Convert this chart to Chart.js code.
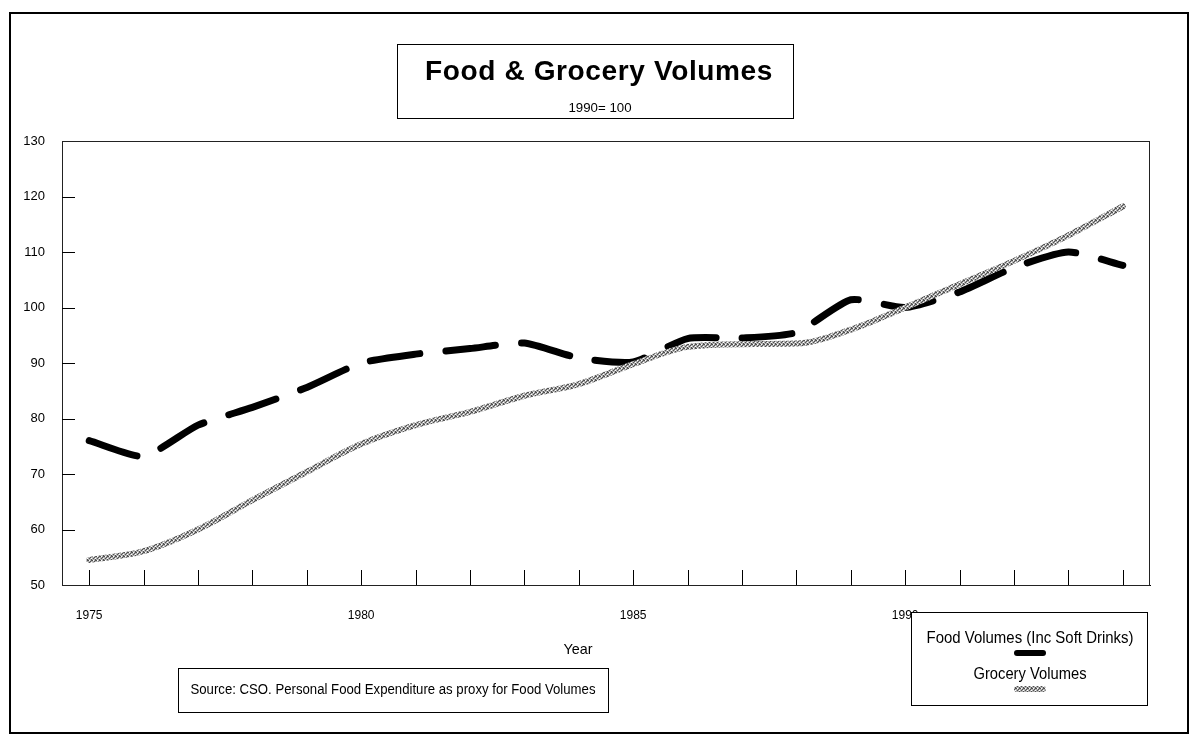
<!DOCTYPE html>
<html>
<head>
<meta charset="utf-8">
<script src="https://cdn.jsdelivr.net/npm/chart.js@4.4.1/dist/chart.umd.min.js"></script>
<style>
  html, body { margin: 0; padding: 0; background: #fff; }
  canvas { display: block; }
</style>
</head>
<body>
<canvas id="c" width="1195" height="738"></canvas>
<script>
// Years on the category axis
const years = ['1975','1976','1977','1978','1979','1980','1981','1982','1983','1984',
               '1985','1986','1987','1988','1989','1990','1991','1992','1993','1994'];

// Index values, 1990 = 100
const foodVolumes = [76, 73.2, 78.8, 82, 85.6, 90, 91.6, 92.6, 93.6, 90.9,
                     90.2, 94.4, 94.5, 95.5, 101.4, 100, 102.8, 107.2, 110, 107.6];
const groceryVolumes = [54.5, 56.1, 60, 65.3, 70.4, 75.4, 78.8, 81.2, 84.1, 86.2,
                        89.8, 92.9, 93.4, 93.5, 96, 100, 104.2, 108.4, 113, 118.2];

// Value axis ticks
const yTicks = [50, 60, 70, 80, 90, 100, 110, 120, 130];

const seriesNames = ['Food Volumes (Inc Soft Drinks)', 'Grocery Volumes'];
const titleText = 'Food & Grocery Volumes';
const subtitleText = '1990= 100';
const axisTitle = 'Year';
const sourceText = 'Source: CSO. Personal Food Expenditure as proxy for Food Volumes';

const SANS = '"Liberation Sans", Arial, sans-serif';

// Mottled grey stroke for the grocery line
function mottled() {
  const p = document.createElement('canvas');
  p.width = 4; p.height = 4;
  const g = p.getContext('2d');
  g.fillStyle = '#b0b0b0';
  g.fillRect(0, 0, 4, 4);
  g.fillStyle = '#505050';
  [[0,0],[2,1],[1,2],[3,3],[3,0]].forEach(([x, y]) => g.fillRect(x, y, 1, 1));
  g.fillStyle = '#ffffff';
  [[1,0],[3,2]].forEach(([x, y]) => g.fillRect(x, y, 1, 1));
  return g.createPattern(p, 'repeat');
}

const ctx0 = document.getElementById('c').getContext('2d');
const greyPattern = mottled();

// Centered text; when a width is given the glyphs are condensed to fit it
function drawText(ctx, text, x, y, font, width, spacing) {
  ctx.save();
  ctx.font = font;
  ctx.fillStyle = '#000';
  ctx.textAlign = 'center';
  ctx.textBaseline = 'middle';
  if (spacing) ctx.letterSpacing = spacing;
  const w = ctx.measureText(text).width;
  const k = width ? width / w : 1;
  ctx.translate(x, y);
  ctx.scale(k, 1);
  ctx.fillText(text, 0, 0);
  ctx.restore();
}

const decorations = {
  id: 'decorations',
  beforeDraw(chart) {
    const ctx = chart.ctx;
    ctx.save();
    ctx.fillStyle = '#fff';
    ctx.fillRect(0, 0, chart.width, chart.height);
    ctx.restore();
  },
  afterDraw(chart) {
    const ctx = chart.ctx;
    const area = chart.chartArea;
    const xs = chart.scales.x, ys = chart.scales.y;
    ctx.save();

    // plot frame
    ctx.strokeStyle = '#222';
    ctx.lineWidth = 1;
    ctx.strokeRect(area.left + 0.5, area.top + 0.5, area.right - area.left - 1, area.bottom - area.top);

    // inward tick marks
    ctx.strokeStyle = '#000';
    ctx.beginPath();
    yTicks.slice(1, -1).forEach(v => {
      const y = Math.round(ys.getPixelForValue(v)) + 0.5;
      ctx.moveTo(area.left, y);
      ctx.lineTo(area.left + 13, y);
    });
    years.forEach((_, i) => {
      const x = Math.round(xs.getPixelForValue(i)) + 0.5;
      ctx.moveTo(x, area.bottom);
      ctx.lineTo(x, area.bottom - 15);
    });
    ctx.stroke();

    // outer border
    ctx.lineWidth = 2;
    ctx.strokeStyle = '#000';
    ctx.strokeRect(10, 13, 1178, 720);

    // title box
    ctx.lineWidth = 1;
    ctx.fillStyle = '#fff';
    ctx.fillRect(397, 44, 396, 74);
    ctx.strokeRect(397.5, 44.5, 396, 74);
    drawText(ctx, titleText, 599, 72, 'bold 28px ' + SANS, 348, '0.6px');
    drawText(ctx, subtitleText, 600, 108, '13px ' + SANS, 63);

    // axis title
    drawText(ctx, axisTitle, 578, 650, '15px ' + SANS, 29);

    // source note
    ctx.fillStyle = '#fff';
    ctx.fillRect(178, 668, 430, 44);
    ctx.strokeStyle = '#000';
    ctx.strokeRect(178.5, 668.5, 430, 44);
    drawText(ctx, sourceText, 393, 690, '14px ' + SANS, 405);

    // legend
    ctx.fillStyle = '#fff';
    ctx.fillRect(911, 612, 236, 93);
    ctx.strokeRect(911.5, 612.5, 236, 93);
    drawText(ctx, seriesNames[0], 1030, 638, '17px ' + SANS, 207);
    drawText(ctx, seriesNames[1], 1030, 674, '17px ' + SANS, 113);
    ctx.lineCap = 'round';
    ctx.lineWidth = 6;
    ctx.strokeStyle = '#000';
    ctx.beginPath(); ctx.moveTo(1017, 653); ctx.lineTo(1043, 653); ctx.stroke();
    ctx.strokeStyle = greyPattern;
    ctx.beginPath(); ctx.moveTo(1017, 689); ctx.lineTo(1043, 689); ctx.stroke();

    ctx.restore();
  }
};

new Chart(ctx0, {
  type: 'line',
  data: {
    labels: years,
    datasets: [
      {
        label: seriesNames[1],
        data: groceryVolumes,
        borderColor: greyPattern,
        borderWidth: 6,
        cubicInterpolationMode: 'monotone',
        pointRadius: 0,
        borderCapStyle: 'round',
        borderJoinStyle: 'round',
        fill: false
      },
      {
        label: seriesNames[0],
        data: foodVolumes,
        borderColor: '#000',
        borderWidth: 7,
        tension: 0.2,
        borderDash: [50, 26],
        borderCapStyle: 'round',
        borderJoinStyle: 'round',
        pointRadius: 0,
        fill: false
      }
    ]
  },
  options: {
    responsive: false,
    animation: false,
    devicePixelRatio: 1,
    layout: { padding: { left: 0, top: 141, right: 45, bottom: 0 } },
    plugins: {
      legend: { display: false },
      title: { display: false },
      tooltip: { enabled: false }
    },
    scales: {
      x: {
        type: 'category',
        offset: true,
        grid: { display: false, drawTicks: false },
        border: { display: true, color: '#000', width: 1 },
        ticks: {
          autoSkip: false,
          maxRotation: 0,
          padding: 23,
          color: '#000',
          font: { family: SANS, size: 12 },
          callback: function (v, i) {
            const yr = years[i];
            return Number(yr) % 5 === 0 ? yr : '';
          }
        },
        afterFit(scale) { scale.height = 153; }
      },
      y: {
        min: 50,
        max: 130,
        grid: { display: false, drawTicks: false },
        border: { display: true, color: '#000', width: 1 },
        afterBuildTicks(scale) { scale.ticks = yTicks.map(v => ({ value: v })); },
        ticks: {
          padding: 17,
          color: '#000',
          font: { family: SANS, size: 13 }
        },
        afterFit(scale) { scale.width = 62; }
      }
    }
  },
  plugins: [decorations]
});
</script>
</body>
</html>
